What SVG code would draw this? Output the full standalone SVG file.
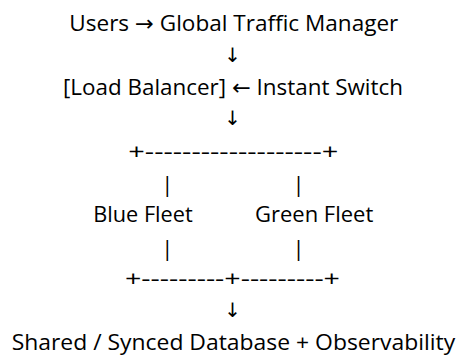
<svg xmlns="http://www.w3.org/2000/svg" width="457" height="355" viewBox="0 0 457 355">
  <style>
    text { font-family: "Open Sans", "Noto Sans", "DejaVu Sans", sans-serif; font-size: 22px; fill: #000; }
    .c { text-anchor: middle; }
    .s { text-anchor: start; }
    .arr { font-family: "DejaVu Sans", sans-serif; font-size: 20px; }
  </style>
  <rect width="457" height="355" fill="#fff"/>
  <g id="node-users-gtm">
    <text class="s" x="69.3" y="31" textLength="329" lengthAdjust="spacingAndGlyphs">Users → Global Traffic Manager</text>
  </g>
  <g id="node-load-balancer">
    <text class="s" x="63" y="94.8" textLength="340" lengthAdjust="spacingAndGlyphs">[Load Balancer] ← Instant Switch</text>
  </g>
  <g id="node-blue-fleet">
    <text class="s" x="93.3" y="222.4" textLength="99.4" lengthAdjust="spacingAndGlyphs">Blue Fleet</text>
  </g>
  <g id="node-green-fleet">
    <text class="s" x="255" y="222.4" textLength="118.3" lengthAdjust="spacingAndGlyphs">Green Fleet</text>
  </g>
  <g id="node-database">
    <text class="s" x="11.7" y="350" textLength="443.5" lengthAdjust="spacingAndGlyphs">Shared / Synced Database + Observability</text>
  </g>
  <g id="connectors">
    <text class="c arr" x="232.7" y="61.5">↓</text>
    <text class="c arr" x="232.7" y="125.3">↓</text>
    <text class="s" x="128.3" y="158.6" textLength="210" lengthAdjust="spacingAndGlyphs">+-------------------+</text>
    <text class="c" x="167.3" y="192">|</text>
    <text class="c" x="298.5" y="192">|</text>
    <text class="c" x="167.3" y="255.8">|</text>
    <text class="c" x="298.5" y="255.8">|</text>
    <text class="s" x="125" y="286.2" textLength="215" lengthAdjust="spacingAndGlyphs">+---------+---------+</text>
    <text class="c arr" x="232.7" y="316.7">↓</text>
  </g>
</svg>
